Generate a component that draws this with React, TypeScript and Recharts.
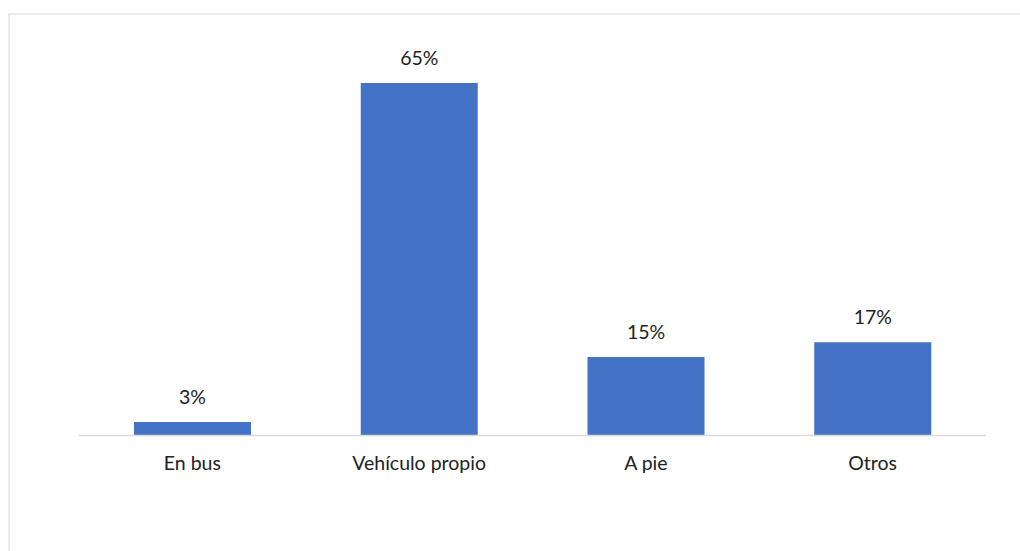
import { BarChart, Bar, XAxis, YAxis, LabelList } from 'recharts'

// modo de transporte
const categories = ['En bus', 'Vehículo propio', 'A pie', 'Otros']
const shares = [2.5, 65, 14.5, 17.2]
const yDomain = [0, 70]

const data = categories.map((name, i) => ({ name, value: shares[i] }))

const FONT = 'Lato, "Open Sans", sans-serif'
const TEXT = '#222'

export default function App() {
  return (
    <div
      style={{
        position: 'fixed',
        top: 0,
        left: 0,
        width: 1020,
        height: 551,
        overflow: 'hidden',
        background: '#fff',
        fontFamily: FONT,
      }}
    >
      {/* marco del gráfico, cortado a la derecha y abajo */}
      <div
        style={{
          position: 'absolute',
          left: 8,
          top: 13,
          width: 1100,
          height: 700,
          border: '2px solid #ebebeb',
        }}
      />
      <div style={{ position: 'absolute', left: 0, top: 0 }}>
        <BarChart
          width={1020}
          height={551}
          data={data}
          margin={{ top: 56, right: 34, left: 79, bottom: 85.5 }}
          barSize={117}
        >
          <XAxis
            dataKey="name"
            axisLine={{ stroke: '#d9d9d9', strokeWidth: 1.5 }}
            tickLine={false}
            tickSize={0}
            tickMargin={21}
            height={30}
            interval={0}
            tick={{ fill: TEXT, fontSize: 19.5, fontFamily: FONT }}
          />
          <YAxis hide domain={yDomain} />
          <Bar dataKey="value" fill="#4472C4" isAnimationActive={false}>
            <LabelList
              dataKey="value"
              position="top"
              offset={18}
              formatter={(v: number) => `${Math.round(v)}%`}
              style={{ fill: TEXT, fontSize: 19.5, fontFamily: FONT }}
            />
          </Bar>
        </BarChart>
      </div>
    </div>
  )
}
